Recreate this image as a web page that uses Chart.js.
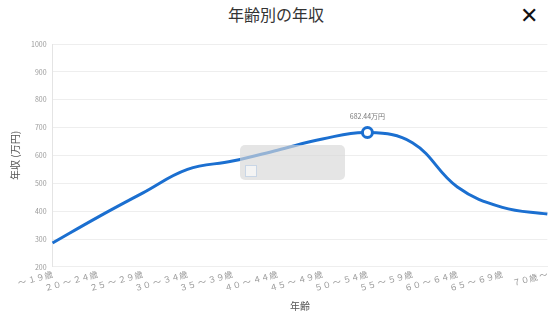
<!DOCTYPE html>
<html lang="ja">
<head>
<meta charset="utf-8">
<script src="https://cdn.jsdelivr.net/npm/chart.js@4"></script>
<style>
  body { margin: 0; background: #fff; font-family: "Noto Sans CJK JP", sans-serif; }
  #wrap { position: relative; width: 552px; height: 319px; overflow: hidden; }
  h1 { position: absolute; top: 2px; left: 0; width: 552px; margin: 0; text-align: center;
       font-size: 16px; font-weight: normal; color: #333; line-height: 24px; }
  #close { position: absolute; top: 0px; left: 520px; font-size: 22px; color: #111; line-height: 26px; }
  #box { position: absolute; top: 30px; left: 0; width: 552px; height: 289px; }
  #tip { position: absolute; left: 240px; top: 145px; width: 105px; height: 35px;
         background: rgba(215,215,215,0.65); border-radius: 5px; }
  #tip span { position: absolute; left: 5px; top: 20px; width: 10px; height: 10px;
              background: #f4f4f4; border: 1px solid #c9d6e6; }
</style>
</head>
<body>
<div id="wrap">
  <h1>年齢別の年収</h1>
  <div id="close">✕</div>
  <div id="box"><canvas id="incomeChart"></canvas></div>
  <div id="tip"><span></span></div>
</div>
<script>
const ageLabels = ["〜 １９歳", "２０ 〜 ２４歳", "２５ 〜 ２９歳", "３０ 〜 ３４歳", "３５ 〜 ３９歳", "４０ 〜 ４４歳",
  "４５ 〜 ４９歳", "５０ 〜 ５４歳", "５５ 〜 ５９歳", "６０ 〜 ６４歳", "６５ 〜 ６９歳", "７０歳 〜"];
const income = [286, 378, 465, 550, 580, 619, 659, 682.44, 646, 487, 414, 390];
const yTicks = [200, 300, 400, 500, 600, 700, 800, 900, 1000];

const peakIndex = income.indexOf(Math.max(...income));
const lineBlue = "#1b6fd0";

// label above the highlighted point
const peakLabel = {
    id: "peakLabel",
    afterDatasetsDraw(chart) {
        const pt = chart.getDatasetMeta(0).data[peakIndex];
        const ctx = chart.ctx;
        ctx.save();
        ctx.font = '7px "Noto Sans CJK JP"';
        ctx.fillStyle = "#777";
        ctx.textAlign = "center";
        ctx.fillText(income[peakIndex].toFixed(2) + "万円", pt.x, pt.y - 14);
        ctx.restore();
    }
};

const ctx = document.getElementById("incomeChart").getContext("2d");
new Chart(ctx, {
    type: "line",
    data: {
        labels: ageLabels,
        datasets: [{
            data: income,
            borderColor: lineBlue,
            borderWidth: 3,
            tension: 0.4,
            fill: false,
            pointRadius: income.map((v, i) => i === peakIndex ? 5 : 0),
            pointBackgroundColor: "#fff",
            pointBorderColor: lineBlue,
            pointBorderWidth: 3
        }]
    },
    options: {
        responsive: true,
        maintainAspectRatio: false,
        animation: false,
        layout: { padding: { left: 5, right: 4, top: 14, bottom: 7 } },
        plugins: { legend: { display: false }, tooltip: { enabled: false } },
        scales: {
            x: {
                grid: { display: false, drawTicks: false },
                border: { display: true, color: "#eee" },
                ticks: {
                    autoSkip: false,
                    minRotation: 15, maxRotation: 15,
                    color: "#999",
                    font: { size: 8.5, family: "Noto Sans CJK JP" },
                    padding: 2
                },
                title: { display: true, text: "年齢", color: "#555",
                         font: { size: 10, family: "Noto Sans CJK JP" }, padding: { top: 5, bottom: 0 } }
            },
            y: {
                min: yTicks[0], max: yTicks[yTicks.length - 1],
                afterBuildTicks: axis => { axis.ticks = yTicks.map(v => ({ value: v })); },
                grid: { color: "#eee", drawTicks: false },
                border: { display: true, color: "#e4e4e4" },
                ticks: { color: "#999", font: { size: 7, family: "Noto Sans CJK JP" }, padding: 6,
                         callback: v => String(v) },
                title: { display: true, text: "年収 (万円)", color: "#555",
                         font: { size: 10, family: "Noto Sans CJK JP" }, padding: 4 }
            }
        }
    },
    plugins: [peakLabel]
});
</script>
</body>
</html>
